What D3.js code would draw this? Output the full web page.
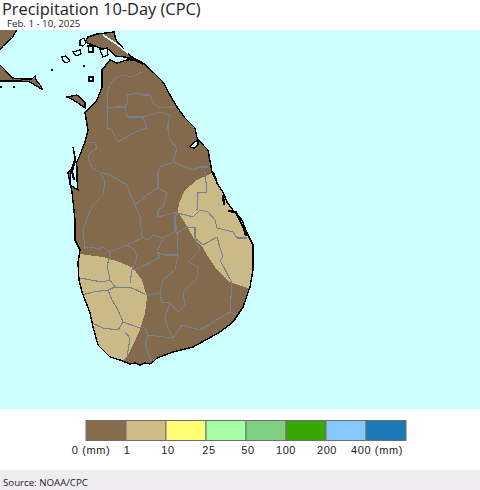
<!DOCTYPE html>
<html><head><meta charset="utf-8">
<script src="https://cdn.jsdelivr.net/npm/d3@7/dist/d3.min.js"></script>
<style>html,body{margin:0;padding:0;background:#fff}svg{display:block}</style>
</head><body><svg id="c" width="480" height="490"></svg>
<script>
const title = "Precipitation 10-Day (CPC)";
const subtitle = "Feb. 1 - 10, 2025";
const source = "Source: NOAA/CPC";
const legendColors = ["#876D4B","#CFBC85","#FFFF73","#A3FF9F","#7FCF80","#38A800","#85C8FF","#1A7AB8"];
const legendLabels = ["0 (mm)","1","10","25","50","100","200","400 (mm)"];

// all geometry in [lon, lat]
const mainland = [[79.82,9.856],[79.856,9.916],[79.964,9.952],[80.168,9.976],[80.192,9.88],[80.276,9.784],[80.384,9.676],[80.516,9.604],[80.636,9.496],[80.756,9.376],[80.84,9.22],[80.924,9.076],[81.02,8.944],[81.14,8.824],[81.164,8.704],[81.236,8.62],[81.296,8.56],[81.344,8.296],[81.404,8.164],[81.476,8.056],[81.524,7.936],[81.596,7.84],[81.704,7.72],[81.764,7.564],[81.836,7.42],[81.836,7.12],[81.8,6.916],[81.716,6.676],[81.596,6.496],[81.44,6.376],[81.116,6.196],[80.876,6.136],[80.684,6.064],[80.636,6.016],[80.6,5.992],[80.54,6.004],[80.48,5.98],[80.42,6.004],[80.36,5.992],[80.24,6.04],[80.12,6.076],[79.976,6.22],[79.916,6.436],[79.88,6.604],[79.784,6.856],[79.748,7.0],[79.736,7.204],[79.76,7.36],[79.7,7.48],[79.7,7.72],[79.664,8.056],[79.616,8.284],[79.736,8.44],[79.82,8.656],[79.856,8.8],[79.82,9.004],[79.964,9.16],[80.024,9.316],[80.024,9.52],[80.12,9.64],[80.204,9.604],[80.324,9.64],[80.42,9.65],[80.3,9.676],[80.18,9.688],[80.12,9.76],[80.0,9.784]];
const mannar = [[79.604,9.196],[79.724,9.22],[79.82,9.136],[79.82,9.064],[79.736,9.124],[79.64,9.184]];
const indiaNorth = [[78.776,10.024],[79.016,10.024],[78.944,9.904],[78.836,9.808],[78.776,9.736]];
const indiaSouth = [[78.776,9.604],[78.86,9.52],[78.944,9.424],[79.064,9.412],[79.184,9.412],[79.22,9.448],[79.232,9.4],[79.28,9.34],[79.316,9.28],[79.16,9.376],[79.04,9.388],[78.776,9.388]];
const islets = [
 [[79.76,9.88],[79.808,9.904],[79.832,9.844],[79.796,9.808],[79.76,9.82]],
 [[79.676,9.736],[79.76,9.76],[79.772,9.712],[79.712,9.688]],
 [[79.856,9.808],[79.916,9.808],[79.916,9.736],[79.868,9.736]],
 [[80,9.76],[80.084,9.784],[80.096,9.7],[80.036,9.676]],
 [[79.544,9.676],[79.592,9.688],[79.64,9.628],[79.592,9.604],[79.556,9.628]],
 [[79.868,9.436],[79.916,9.436],[79.916,9.388],[79.868,9.388]],
 // lagoons
 [[81.08,8.6],[81.128,8.65],[81.176,8.68],[81.176,8.62],[81.128,8.58]],
 [[79.676,8.6],[79.7,8.44],[79.652,8.32],[79.64,8.14],[79.736,8.08],[79.724,8.2],[79.724,8.356]]
];
const blackChains = [
 [[81.536,7.828],[81.632,7.816],[81.68,7.708],[81.728,7.612],[81.752,7.528]],
 [[81.356,8.296],[81.392,8.2]],
 [[81.476,8.02],[81.488,7.9]],
 [[80.324,9.652],[80.42,9.64],[80.516,9.592]],
 [[79.7,8.44],[79.664,8.3],[79.69,8.2]]
];
const specks = [[79.424,9.52],[79.808,9.568],[78.812,9.316],[78.968,9.316]];
const jaffnaSliver = [[80.036,9.94],[80.18,9.844],[80.336,9.724]];
const rainEast = [[81.38,8.296],[81.296,8.26],[81.164,8.2],[81.02,8.08],[80.948,7.924],[80.936,7.816],[81.02,7.684],[81.116,7.516],[81.236,7.384],[81.284,7.3],[81.404,7.12],[81.56,6.976],[81.764,6.904],[82,6.904],[82,7.96],[81.5,8.296]];
const rainWest = [[79.64,7.312],[79.76,7.312],[80.036,7.276],[80.24,7.216],[80.396,7.144],[80.504,7.0],[80.564,6.796],[80.54,6.604],[80.48,6.4],[80.384,6.196],[80.276,5.98],[79.64,5.98]];
const districts = [
 [[80.504,9.496],[80.384,9.436],[80.288,9.46],[80.18,9.424],[80.12,9.34],[80.084,9.244],[80.096,9.064],[80.18,9.076],[80.3,9.076],[80.336,9.16],[80.324,9.22],[80.444,9.244],[80.516,9.22],[80.6,9.22],[80.636,9.124],[80.72,9.064],[80.84,9.076],[80.924,9.076]],
 [[80.096,9.064],[80.084,8.824],[80.144,8.8],[80.216,8.656],[80.36,8.74],[80.48,8.8],[80.564,8.824],[80.516,8.956]],
 [[80.3,9.076],[80.324,8.956],[80.516,8.956],[80.72,9.016],[80.84,8.98],[80.816,8.884],[80.816,8.8],[80.84,8.68],[80.924,8.584],[80.876,8.416]],
 [[79.832,8.656],[79.94,8.644],[79.964,8.584],[79.88,8.524],[79.856,8.464],[79.904,8.344],[80,8.296],[80.12,8.26],[80.324,8.14],[80.36,8.044],[80.42,7.9],[80.48,7.756],[80.504,7.516],[80.576,7.48],[80.636,7.54],[80.756,7.504],[80.9,7.576],[80.9,7.756],[80.936,7.804]],
 [[80,8.296],[80.06,8.176],[80.036,8.02],[79.916,7.9],[79.844,7.744],[79.796,7.6],[79.82,7.384],[79.916,7.396],[79.976,7.36],[80.036,7.396],[80.12,7.336],[80.324,7.42],[80.504,7.504]],
 [[80.42,7.9],[80.564,8.02],[80.696,8.104],[80.804,8.044],[80.756,7.876],[80.696,7.84],[80.696,7.756],[80.876,7.804],[80.936,7.804],[81.116,7.756],[81.2,7.84],[81.296,7.816],[81.38,7.72],[81.404,7.624],[81.596,7.576],[81.644,7.504],[81.764,7.504]],
 [[80.696,8.104],[80.696,8.284],[80.72,8.356],[80.876,8.416],[81.116,8.32],[81.2,8.356],[81.296,8.356]],
 [[81.164,7.84],[81.176,8.044],[81.284,8.056],[81.26,8.296],[81.2,8.356]],
 [[80.9,7.756],[80.924,7.564],[81.044,7.636],[81.14,7.624],[81.14,7.504],[81.236,7.42],[81.296,7.456],[81.404,7.516],[81.44,7.384],[81.476,7.276],[81.44,7.24],[81.584,6.964],[81.56,6.616]],
 [[80.924,7.564],[80.936,7.3],[80.9,7.12],[80.756,7.0],[80.72,6.844]],
 [[80.12,7.336],[80.12,7.276],[80.084,7.18],[80.12,7.0],[80.024,6.976],[79.76,7.024]],
 [[80.12,7.0],[80.18,6.916],[80.384,6.904],[80.564,6.82],[80.72,6.844]],
 [[80.18,6.916],[80.096,6.88],[79.916,6.856],[79.784,6.82]],
 [[80.096,6.88],[80.144,6.76],[80.216,6.64],[80.276,6.496],[80.444,6.436],[80.54,6.424],[80.576,6.34],[80.864,6.304]],
 [[79.904,6.484],[80.036,6.424],[80.216,6.4],[80.276,6.496]],
 [[80.576,6.34],[80.54,6.22],[80.624,6.004]],
 [[80.3,6.376],[80.36,6.304],[80.324,6.076],[80.276,6.016]],
 [[80.324,7.42],[80.42,7.36],[80.444,7.264],[80.384,7.12],[80.36,6.964]],
 [[80.756,7.504],[80.684,7.336],[80.72,7.276],[80.66,7.24],[80.48,7.144],[80.384,7.12]],
 [[80.684,7.336],[80.78,7.3],[80.936,7.3]],
 [[80.72,6.844],[80.744,6.736],[80.84,6.724],[80.936,6.616],[81.02,6.7],[80.996,6.856],[81.164,7.024],[81.176,7.156],[81.056,7.216],[81.2,7.36],[81.14,7.504]],
 [[80.84,6.724],[80.78,6.556],[80.816,6.424],[80.876,6.304],[80.984,6.46],[81.2,6.4],[81.56,6.616],[81.644,6.58]]
];

const svg = d3.select("#c");
const x = d3.scaleLinear().domain([78.8,84.56]).range([0,480]);
const y = d3.scaleLinear().domain([10,5.452]).range([30,409]);
const closed = d3.line().x(d=>x(d[0])).y(d=>y(d[1])).curve(d3.curveLinearClosed);
const open = d3.line().x(d=>x(d[0])).y(d=>y(d[1]));

const defs = svg.append("defs");
defs.append("clipPath").attr("id","map").append("rect").attr("x",0).attr("y",30).attr("width",480).attr("height",379);
defs.append("clipPath").attr("id","land").append("path").attr("d",closed(mainland));

svg.append("rect").attr("x",0).attr("y",30).attr("width",480).attr("height",379).attr("fill","#CCFFFF");
const m = svg.append("g").attr("clip-path","url(#map)").style("shape-rendering","crispEdges");
const brown = "#846A4C", tan="#C9BA88";
[indiaNorth,indiaSouth,mannar].forEach(p=>m.append("path").attr("d",closed(p)).attr("fill",brown).attr("stroke","#000").attr("stroke-width",1.3));
m.append("path").attr("d",closed(mainland)).attr("fill",brown);
const r = m.append("g").attr("clip-path","url(#land)");
[rainEast,rainWest].forEach(p=>r.append("path").attr("d",closed(p)).attr("fill",tan));
m.append("g").selectAll("path").data(districts).join("path").attr("d",open).attr("fill","none").attr("stroke","#7B7F87").attr("stroke-width",1.1);
m.append("path").attr("d",closed(mainland)).attr("fill","none").attr("stroke","#000").attr("stroke-width",1.4);
m.append("g").selectAll("path").data(islets).join("path").attr("d",closed).attr("fill","#CCFFFF").attr("stroke","#000").attr("stroke-width",1.3);
m.append("g").selectAll("path").data(blackChains).join("path").attr("d",open).attr("fill","none").attr("stroke","#000").attr("stroke-width",2.2);
m.append("g").selectAll("circle").data(specks).join("circle").attr("cx",d=>x(d[0])).attr("cy",d=>y(d[1])).attr("r",1).attr("fill","#000");
m.append("path").attr("d",open(jaffnaSliver)).attr("fill","none").attr("stroke","#CCFFFF").attr("stroke-width",1.6);

svg.append("text").text(title).attr("x",2).attr("y",14.5).attr("font-family","Open Sans").attr("font-size",16.4).attr("fill","#222");
svg.append("text").text(subtitle).attr("x",7).attr("y",26.5).attr("font-family","Open Sans").attr("font-size",9.7).attr("fill","#222");

const band = d3.scaleBand().domain(d3.range(legendColors.length)).range([86,406]);
svg.append("g").selectAll("rect").data(legendColors).join("rect")
 .attr("x",(d,i)=>band(i)).attr("y",420.5).attr("width",band.bandwidth()).attr("height",20).attr("fill",d=>d).attr("stroke","#6E6E6E").attr("stroke-width",1);
const labelShift = [5,1,2,3,2,0,1,11];
svg.append("g").selectAll("text").data(legendLabels).join("text").text(d=>d)
 .attr("x",(d,i)=>band(i)+labelShift[i]).attr("y",454).attr("text-anchor","middle")
 .attr("font-family","Liberation Sans").attr("font-size",11).attr("letter-spacing",0.6).attr("fill","#222");

svg.append("rect").attr("x",0).attr("y",470).attr("width",480).attr("height",20).attr("fill","#EFEDF1");
svg.append("text").text(source).attr("x",3).attr("y",486).attr("font-family","Open Sans").attr("font-size",9.7).attr("fill","#222");
</script></body></html>
